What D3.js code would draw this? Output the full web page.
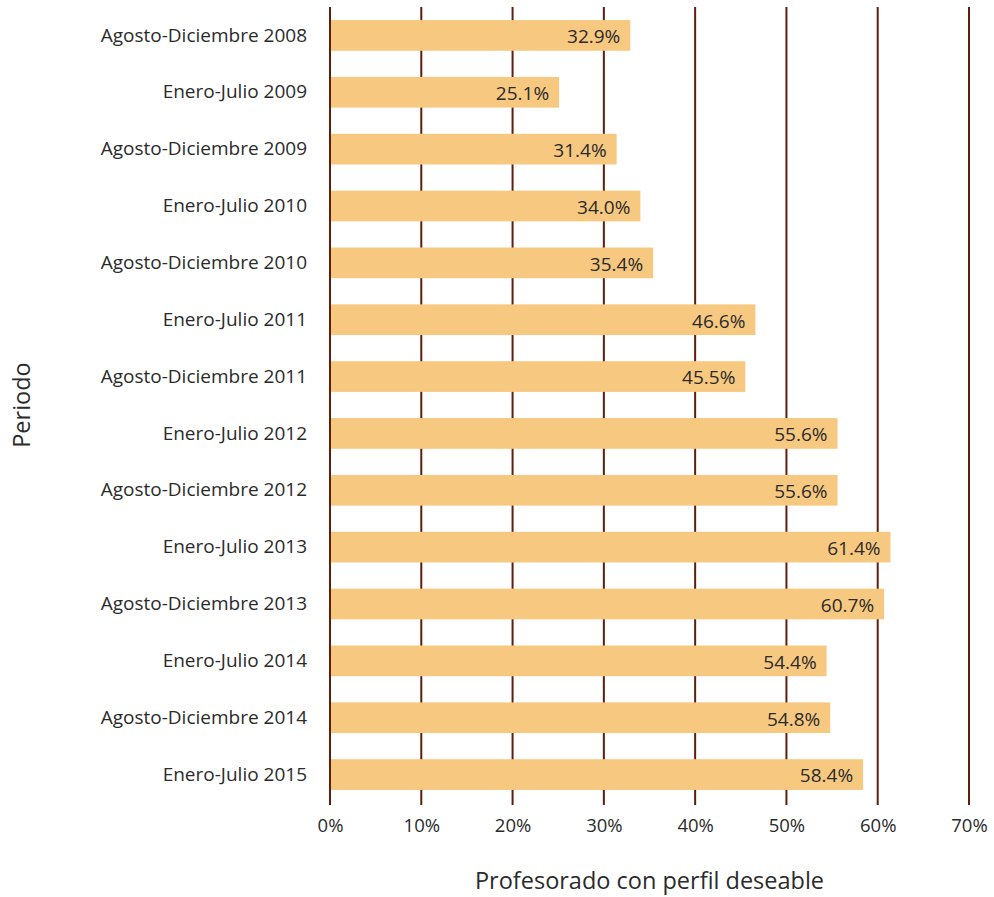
<!DOCTYPE html>
<html><head><meta charset="utf-8">
<script src="https://cdn.jsdelivr.net/npm/d3@7"></script>
<style>body{margin:0;background:#fff}</style>
</head><body><svg id="c" width="994" height="897"></svg>
<script>
const periods = ["Agosto-Diciembre 2008","Enero-Julio 2009","Agosto-Diciembre 2009","Enero-Julio 2010","Agosto-Diciembre 2010","Enero-Julio 2011","Agosto-Diciembre 2011","Enero-Julio 2012","Agosto-Diciembre 2012","Enero-Julio 2013","Agosto-Diciembre 2013","Enero-Julio 2014","Agosto-Diciembre 2014","Enero-Julio 2015"];
const values = [32.9,25.1,31.4,34.0,35.4,46.6,45.5,55.6,55.6,61.4,60.7,54.4,54.8,58.4];
const ticks = [0,10,20,30,40,50,60,70];

const font = "'Open Sans', sans-serif";
const svg = d3.select("#c");
const x = d3.scaleLinear().domain([0,70]).range([330,969]);
const y = d3.scaleBand().domain(periods).range([7,803]).paddingInner(0.46).paddingOuter(0.23);

// grid lines
svg.append("g").selectAll("line").data(ticks).join("line")
  .attr("x1", d=>x(d)).attr("x2", d=>x(d)).attr("y1",7).attr("y2",805)
  .attr("stroke","#5e1e0c").attr("stroke-width",2);

// bars
svg.append("g").selectAll("rect").data(values).join("rect")
  .attr("x", x(0)+1).attr("y",(d,i)=>y(periods[i]))
  .attr("width", d=>x(d)-x(0)-1).attr("height", y.bandwidth())
  .attr("fill","#f7c880");

// value labels
svg.append("g").selectAll("text").data(values).join("text")
  .attr("x", d=>x(d)-10).attr("y",(d,i)=>y(periods[i])+y.bandwidth()/2+1)
  .attr("dy","0.36em").attr("text-anchor","end")
  .style("font-family",font).style("font-size","19px").attr("fill","#2b2b2b")
  .text(d=>d.toFixed(1)+"%");

// category labels
const yAxis = d3.axisLeft(y).tickSize(0).tickPadding(23);
const gy = svg.append("g").attr("transform","translate(330,0)").call(yAxis);
gy.select(".domain").remove();
gy.selectAll("text").style("font-family",font).style("font-size","19px").attr("fill","#2b2b2b");

// x axis tick labels
const xAxis = d3.axisBottom(x).tickValues(ticks).tickFormat(d=>d+"%").tickSize(0).tickPadding(14);
const gx = svg.append("g").attr("transform","translate(0,805)").call(xAxis);
gx.select(".domain").remove();
gx.selectAll("text").style("font-family",font).style("font-size","18.5px").attr("fill","#2b2b2b");

// titles
svg.append("text").attr("x",649.5).attr("y",889)
  .attr("text-anchor","middle")
  .style("font-family",font).style("font-size","23.5px").attr("fill","#2b2b2b")
  .text("Profesorado con perfil deseable");
svg.append("text").attr("transform","translate(22,405) rotate(-90)").attr("dy","0.36em").attr("text-anchor","middle")
  .style("font-family",font).style("font-size","23.5px").attr("fill","#2b2b2b")
  .text("Periodo");
</script></body></html>
